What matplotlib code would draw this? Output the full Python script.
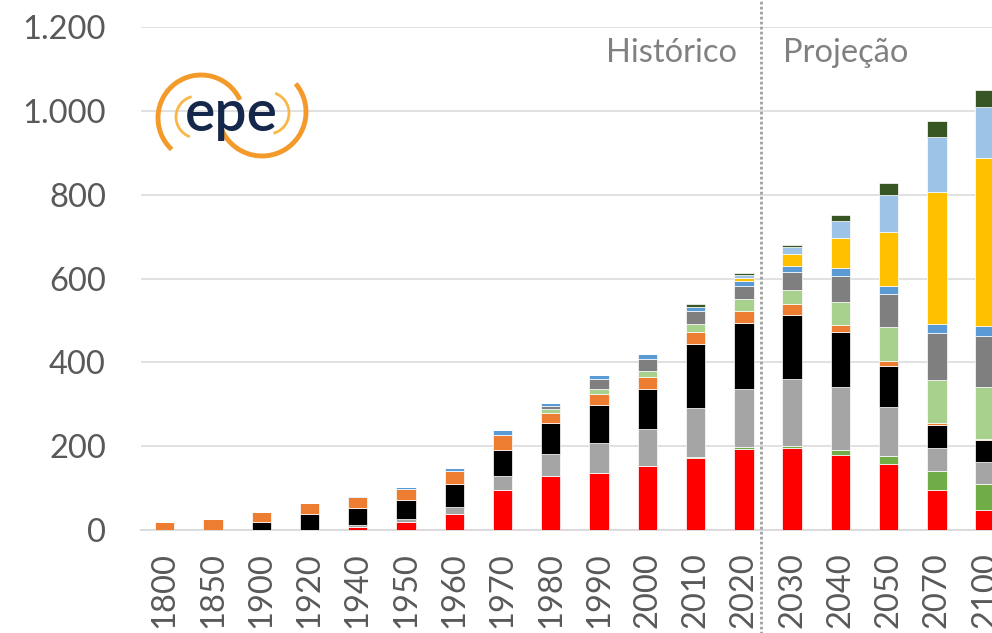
import matplotlib.pyplot as plt
from matplotlib.patches import Arc
import numpy as np

# dados (unidades do eixo y)
anos = ['1800', '1850', '1900', '1920', '1940', '1950', '1960', '1970', '1980',
        '1990', '2000', '2010', '2020', '2030', '2040', '2050', '2070', '2100']

vermelho = [0, 0, 0, 1, 8, 18, 39, 95, 130, 135, 153, 172, 194, 196, 179, 158, 96, 48]
verde = [0, 0, 0, 0, 0, 0, 0, 0, 0, 0, 0, 1, 5, 4, 13, 19, 45, 62]
cinza_claro = [0, 0, 0, 0, 4, 8, 17, 34, 51, 72, 88, 119, 137, 160, 150, 116, 54, 53]
preto = [0, 0, 20, 38, 41, 45, 54, 62, 75, 92, 96, 152, 157, 154, 130, 99, 56, 52]
laranja = [19, 27, 23, 25, 26, 27, 31, 35, 22, 26, 29, 28, 30, 24, 17, 10, 4, 1]
verde_claro = [0, 0, 0, 0, 0, 0, 0, 0, 11, 11, 14, 20, 27, 35, 55, 82, 103, 124]
cinza_escuro = [0, 0, 0, 0, 0, 0, 0, 0, 8, 24, 28, 30, 31, 43, 63, 80, 111, 124]
azul = [0, 0, 0, 0, 2, 4, 8, 12, 6, 9, 11, 11, 14, 15, 17, 19, 23, 23]
amarelo = [0, 0, 0, 0, 0, 0, 0, 0, 0, 0, 0, 0, 7, 28, 72, 129, 314, 400]
azul_claro = [0, 0, 0, 0, 0, 0, 0, 0, 0, 0, 0, 0, 6, 15, 42, 88, 131, 123]
verde_escuro = [0, 0, 0, 0, 0, 0, 0, 0, 0, 0, 2, 5, 4, 6, 13, 28, 38, 40]

series = [vermelho, verde, cinza_claro, preto, laranja, verde_claro,
          cinza_escuro, azul, amarelo, azul_claro, verde_escuro]
cores = ['#FF0000', '#70AD47', '#A5A5A5', '#000000', '#ED7D31', '#A9D18E',
         '#7F7F7F', '#5B9BD5', '#FFC000', '#9DC3E6', '#375623']

plt.rcParams['font.family'] = ['Lato', 'DejaVu Sans']

W, H = 992, 633
fig = plt.figure(figsize=(W / 100, H / 100), dpi=100)

# eixo principal (passa da borda direita, como no recorte original)
passo = 48.26
esq = 140.6
ax = fig.add_axes([esq / W, (H - 530) / H, 18 * passo / W, (530 - 27) / H])

x = np.arange(len(anos))
base = np.zeros(len(anos))
for valores, cor in zip(series, cores):
    ax.bar(x, valores, width=0.40, bottom=base, color=cor,
           edgecolor='white', linewidth=0.5, zorder=3)
    base += np.array(valores)

ax.set_xlim(-0.5, len(anos) - 0.5)
ax.set_ylim(0, 1200)
ax.set_yticks(range(0, 1201, 200))
ax.set_yticklabels(['0', '200', '400', '600', '800', '1.000', '1.200'])
ax.set_xticks(x)
ax.set_xticklabels(anos, rotation=90)
ax.tick_params(axis='y', length=0, pad=25, labelsize=23.5, labelcolor='#595959')
ax.tick_params(axis='x', length=0, pad=16, labelsize=23.5, labelcolor='#595959')
for lab in ax.get_xticklabels():
    lab.set_verticalalignment('top')

ax.grid(axis='y', color='#D9D9D9', linewidth=1.1, zorder=0)
for s in ['top', 'right', 'left']:
    ax.spines[s].set_visible(False)
ax.spines['bottom'].set_color('#D9D9D9')
ax.spines['bottom'].set_linewidth(1.3)

# separacao historico / projecao
ax.axvline(12.36, ymin=-0.3, ymax=1.1, color='#A0A0A0', linewidth=2.0,
           linestyle=(0, (1, 0.8)), clip_on=False, zorder=4)

# camada em pixels para textos e logo
over = fig.add_axes([0, 0, 1, 1], zorder=5)
over.set_xlim(0, W)
over.set_ylim(H, 0)
over.axis('off')
over.patch.set_alpha(0)

over.text(737, 62, 'Histórico', ha='right', va='baseline', fontsize=23.5, color='#808080')
over.text(783, 62, 'Projeção', ha='left', va='baseline', fontsize=23.5, color='#808080')

# logo epe (aproximado)
over.add_patch(Arc((201, 118), 86, 86, theta1=-227, theta2=-25,
                   color='#F39A2B', linewidth=3.5))
over.add_patch(Arc((262, 112), 88, 88, theta1=-40, theta2=157,
                   color='#F39A2B', linewidth=3.5))
over.add_patch(Arc((197, 117), 42, 42, theta1=-250, theta2=-105,
                   color='#F9B748', linewidth=2.0))
over.add_patch(Arc((268, 113), 42, 42, theta1=-70, theta2=75,
                   color='#F9B748', linewidth=2.0))
over.text(231, 131, 'epe', ha='center', va='baseline', fontsize=41,
          fontweight='semibold', color='#15284B')

fig.savefig('out.png', dpi=100)
